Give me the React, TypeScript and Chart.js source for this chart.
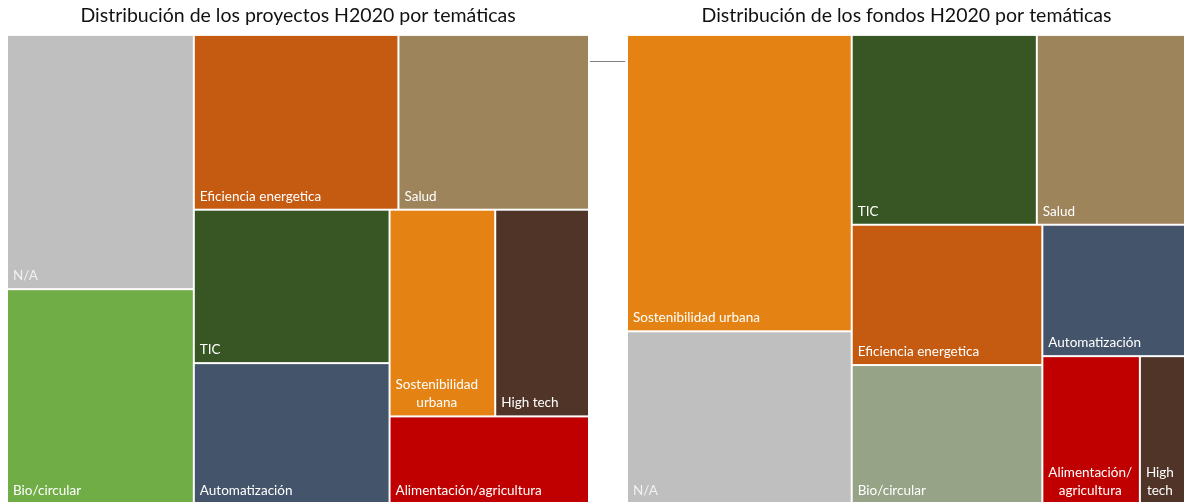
import React, { useEffect, useRef } from "react";
import { Chart, registerables } from "chart.js";

Chart.register(...registerables);

// ---------- Data ----------
const projectTitle = "Distribución de los proyectos H2020 por temáticas";
const projectCategories = [
  "N/A",
  "Bio/circular",
  "Eficiencia energetica",
  "Salud",
  "TIC",
  "Automatización",
  "Sostenibilidad urbana",
  "High tech",
  "Alimentación/agricultura",
];
const projectValues = [17.4, 14.7, 13.1, 12.2, 11.0, 10.1, 8.0, 7.1, 6.4];
// number of consecutive cells in each strip of the treemap (column, row, column, ...)
const projectStrips = [2, 2, 2, 2, 1];

const fundTitle = "Distribución de los fondos H2020 por temáticas";
const fundCategories = [
  "Sostenibilidad urbana",
  "N/A",
  "TIC",
  "Salud",
  "Eficiencia energetica",
  "Bio/circular",
  "Automatización",
  "Alimentación/agricultura",
  "High tech",
];
const fundValues = [25.4, 14.8, 13.4, 10.8, 10.2, 10.1, 7.2, 5.5, 2.6];
const fundStrips = [2, 2, 2, 1, 1, 1];

// ---------- Styles ----------
const projectColors: Record<string, string> = {
  "N/A": "#BFBFBF",
  "Bio/circular": "#70AD47",
  "Eficiencia energetica": "#C55A11",
  Salud: "#9E845A",
  TIC: "#375623",
  "Automatización": "#44546A",
  "Sostenibilidad urbana": "#E48313",
  "High tech": "#4F3427",
  "Alimentación/agricultura": "#C00000",
};
const fundColors: Record<string, string> = {
  ...projectColors,
  "Bio/circular": "#97A386",
};

const FONT = "Lato, 'Open Sans', 'DejaVu Sans', sans-serif";

type Rect = { x0: number; y0: number; x1: number; y1: number };

function layoutStrips(values: number[], strips: number[]): Rect[] {
  const rects: Rect[] = [];
  let x0 = 0,
    y0 = 0;
  const x1 = 1,
    y1 = 1;
  let remaining = values.reduce((a, b) => a + b, 0);
  let idx = 0;
  strips.forEach((count, s) => {
    const items = values.slice(idx, idx + count);
    const sum = items.reduce((a, b) => a + b, 0);
    if (s % 2 === 0) {
      const w = ((x1 - x0) * sum) / remaining;
      let yy = y0;
      items.forEach((v) => {
        const h = ((y1 - y0) * v) / sum;
        rects.push({ x0, x1: x0 + w, y0: yy, y1: yy + h });
        yy += h;
      });
      x0 += w;
    } else {
      const h = ((y1 - y0) * sum) / remaining;
      let xx = x0;
      items.forEach((v) => {
        const w = ((x1 - x0) * v) / sum;
        rects.push({ x0: xx, x1: xx + w, y0, y1: y0 + h });
        xx += w;
      });
      y0 += h;
    }
    remaining -= sum;
    idx += count;
  });
  return rects;
}

function wrapText(ctx: CanvasRenderingContext2D, text: string, maxW: number): string[] {
  if (ctx.measureText(text).width <= maxW) return [text];
  const tokens: { t: string; sep: string }[] = [];
  let cur = "";
  for (const ch of text) {
    if (ch === " ") {
      tokens.push({ t: cur, sep: " " });
      cur = "";
    } else if (ch === "/") {
      tokens.push({ t: cur + "/", sep: "" });
      cur = "";
    } else cur += ch;
  }
  if (cur) tokens.push({ t: cur, sep: "" });
  const lines: string[] = [];
  let line = "";
  let pendingSep = "";
  tokens.forEach((tok) => {
    const candidate = line ? line + pendingSep + tok.t : tok.t;
    if (line && ctx.measureText(candidate).width > maxW) {
      lines.push(line);
      line = tok.t;
    } else line = candidate;
    pendingSep = tok.sep;
  });
  if (line) lines.push(line);
  return lines;
}

const treemapPlugin = {
  id: "treemapCells",
  afterDatasetsDraw(chart: any) {
    const ds = chart.data.datasets[0];
    const rects: Rect[] = ds.rects;
    const labels: string[] = ds.cellLabels;
    const colors: string[] = ds.cellColors;
    const xs = chart.scales.x;
    const ys = chart.scales.y;
    const ctx: CanvasRenderingContext2D = chart.ctx;
    ctx.save();
    ctx.font = `13.5px ${FONT}`;
    const lineH = 18.5;
    rects.forEach((r, i) => {
      const left = xs.getPixelForValue(r.x0);
      const right = xs.getPixelForValue(r.x1);
      const top = ys.getPixelForValue(r.y0);
      const bottom = ys.getPixelForValue(r.y1);
      ctx.fillStyle = colors[i];
      ctx.fillRect(left + 1, top + 1, right - left - 2, bottom - top - 2);
      const pad = 5;
      const lines = wrapText(ctx, labels[i], right - left - 2 - 2 * pad);
      const widths = lines.map((l) => ctx.measureText(l).width);
      const blockW = Math.max(...widths);
      ctx.fillStyle = labels[i] === "N/A" ? "#F2F2F2" : "#FFFFFF";
      ctx.textBaseline = "alphabetic";
      ctx.textAlign = "left";
      lines.forEach((l, k) => {
        const x = left + 1 + pad + (blockW - widths[k]) / 2;
        const y = bottom - 1 - 8 - (lines.length - 1 - k) * lineH;
        ctx.fillText(l, x, y);
      });
    });
    ctx.restore();
  },
};

function TreemapChart(props: {
  title: string;
  categories: string[];
  values: number[];
  strips: number[];
  colors: Record<string, string>;
  style: React.CSSProperties;
}) {
  const ref = useRef<HTMLCanvasElement>(null);
  useEffect(() => {
    if (!ref.current) return;
    const rects = layoutStrips(props.values, props.strips);
    const chart = new Chart(ref.current, {
      type: "scatter",
      data: {
        datasets: [
          {
            label: props.title,
            data: rects.map((r) => ({ x: (r.x0 + r.x1) / 2, y: (r.y0 + r.y1) / 2 })),
            pointRadius: 0,
            pointHoverRadius: 0,
            rects,
            cellLabels: props.categories,
            cellColors: props.categories.map((c) => props.colors[c]),
          } as any,
        ],
      },
      options: {
        animation: false,
        responsive: true,
        maintainAspectRatio: false,
        layout: { padding: 0 },
        scales: {
          x: { type: "linear", min: 0, max: 1, display: false },
          y: { type: "linear", min: 0, max: 1, reverse: true, display: false },
        },
        plugins: {
          legend: { display: false },
          tooltip: { enabled: false },
          title: {
            display: true,
            text: props.title,
            color: "#111111",
            font: { family: FONT, size: 19.5, weight: "normal" as any, lineHeight: 1.2 },
            padding: { top: 4, bottom: 7.5 },
          },
        },
      },
      plugins: [treemapPlugin],
    });
    return () => chart.destroy();
  }, []);
  return (
    <div style={{ position: "absolute", ...props.style }}>
      <canvas ref={ref} />
    </div>
  );
}

export default function App() {
  return (
    <div style={{ position: "absolute", left: 0, top: 0, width: 1184, height: 502, background: "#fff", overflow: "hidden" }}>
      <TreemapChart
        title={projectTitle}
        categories={projectCategories}
        values={projectValues}
        strips={projectStrips}
        colors={projectColors}
        style={{ left: 7, top: 0, width: 582, height: 504 }}
      />
      <div style={{ position: "absolute", left: 590, top: 61, width: 35, height: 0, borderTop: "1px solid #808080" }} />
      <TreemapChart
        title={fundTitle}
        categories={fundCategories}
        values={fundValues}
        strips={fundStrips}
        colors={fundColors}
        style={{ left: 627, top: 0, width: 559, height: 504 }}
      />
    </div>
  );
}
